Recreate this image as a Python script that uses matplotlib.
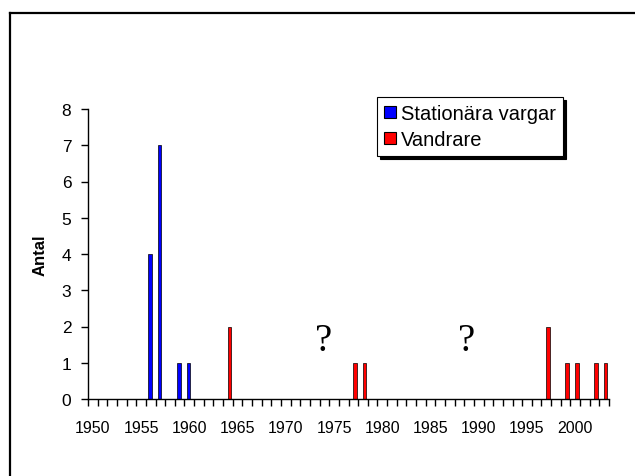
import numpy as np
import matplotlib.pyplot as plt
from matplotlib.lines import Line2D
from matplotlib.patches import Patch

# Years shown on the category axis
years = list(range(1950, 2004))

# Counts per year
stationary = {1956: 4, 1957: 7, 1959: 1, 1960: 1}
wanderers = {1964: 2, 1977: 1, 1978: 1, 1997: 2, 1999: 1, 2000: 1, 2002: 1, 2003: 1}

stat_vals = [stationary.get(y, 0) for y in years]
vand_vals = [wanderers.get(y, 0) for y in years]

label_years = list(range(1950, 2001, 5))

fig = plt.figure(figsize=(6.35, 4.77), dpi=100)
ax = fig.add_axes([88/635, 1 - 400/477, 521/635, 290/477])

x = np.arange(len(years))
w = 0.38
ax.bar(x - 0.1, stat_vals, width=w, color='#0000FF', edgecolor='black', linewidth=0.5)
ax.bar(x + 0.15, vand_vals, width=w, color='#FF0000', edgecolor='black', linewidth=0.5)

ax.set_xlim(-0.5, len(years) - 0.5)
ax.set_ylim(0, 8)

for s in ['top', 'right']:
    ax.spines[s].set_visible(False)
for s in ['left', 'bottom']:
    ax.spines[s].set_linewidth(1.0)

# category boundaries get tick marks, labels sit on category centres
ax.set_xticks(np.arange(len(years) + 1) - 0.5)
ax.set_xticklabels([])
ax.tick_params(axis='x', which='major', direction='out', length=5, width=1)
ax.set_xticks([years.index(y) for y in label_years], minor=True)
ax.set_xticklabels([str(y) for y in label_years], minor=True, fontsize=11.5,
                   family='Liberation Sans')
ax.tick_params(axis='x', which='minor', length=0, pad=15)

ax.set_yticks(range(0, 9))
ax.set_yticklabels([str(v) for v in range(0, 9)], fontsize=12.5, family='Liberation Sans')
ax.tick_params(axis='y', direction='out', length=5, width=1, pad=7)
ax.set_ylabel('Antal', fontsize=12, fontweight='bold', family='Liberation Sans', labelpad=10)

ax.text(years.index(1974) - 0.1, 1.6, '?', fontsize=28, family='Liberation Serif',
        ha='center', va='center')
ax.text(years.index(1989) - 0.25, 1.6, '?', fontsize=28, family='Liberation Serif',
        ha='center', va='center')

handles = [Patch(facecolor='#0000FF', edgecolor='black', linewidth=0.8),
           Patch(facecolor='#FF0000', edgecolor='black', linewidth=0.8)]
leg = ax.legend(handles, ['Stationära vargar', 'Vandrare'], loc='upper left',
                bbox_to_anchor=(377/635, 1 - 98/477), bbox_transform=fig.transFigure,
                borderaxespad=0, fancybox=False, shadow={'color': 'black', 'alpha': 1},
                framealpha=1, edgecolor='black', handlelength=0.6, handleheight=0.6,
                handletextpad=0.25, borderpad=0.35, labelspacing=0.35,
                prop={'family': 'Liberation Sans', 'size': 14.5})
leg.get_frame().set_linewidth(0.8)

# outer chart frame (only top and left edges are visible)
fig.add_artist(Line2D([10/635, 1.0], [1 - 14/477, 1 - 14/477], color='black', lw=1.6,
                      transform=fig.transFigure))
fig.add_artist(Line2D([10/635, 10/635], [0.0, 1 - 14/477], color='black', lw=1.6,
                      transform=fig.transFigure))

fig.savefig('out.png', dpi=100)
